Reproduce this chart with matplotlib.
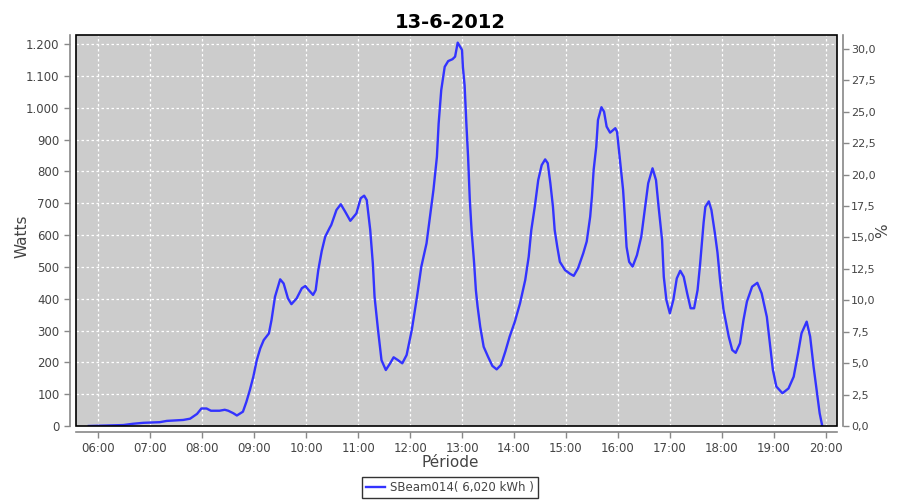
import matplotlib
matplotlib.use("Agg")
import matplotlib.pyplot as plt
from matplotlib.patches import Rectangle
from matplotlib.ticker import FuncFormatter, MultipleLocator

# Reading times (HH:MM) and power in watts
times = [
    "05:49", "06:29", "06:40", "06:52", "07:11", "07:19", "07:38", "07:46", "07:54", "07:59",
    "08:05", "08:10", "08:20", "08:26", "08:30", "08:36", "08:40", "08:47", "08:51", "08:55",
    "08:59", "09:03", "09:07", "09:11", "09:17", "09:20", "09:24", "09:30", "09:34", "09:39",
    "09:43", "09:49", "09:55", "09:59", "10:03", "10:08", "10:11", "10:14", "10:18", "10:22",
    "10:27", "10:29", "10:35", "10:40", "10:45", "10:51", "10:58", "11:03", "11:07", "11:10",
    "11:14", "11:17", "11:19", "11:23", "11:27", "11:32", "11:37", "11:41", "11:46", "11:51",
    "11:56", "12:02", "12:08", "12:13", "12:19", "12:23", "12:27", "12:31", "12:33", "12:36",
    "12:40", "12:44", "12:49", "12:52", "12:55", "13:00", "13:01", "13:03", "13:05", "13:07",
    "13:09", "13:11", "13:14", "13:16", "13:18", "13:21", "13:25", "13:30", "13:35", "13:40",
    "13:45", "13:50", "13:55", "14:01", "14:07", "14:13", "14:17", "14:20", "14:24", "14:28",
    "14:32", "14:36", "14:39", "14:42", "14:45", "14:47", "14:50", "14:53", "14:59", "15:05",
    "15:09", "15:14", "15:20", "15:24", "15:28", "15:30", "15:32", "15:35", "15:37", "15:41",
    "15:44", "15:47", "15:51", "15:57", "15:59", "16:02", "16:06", "16:08", "16:10", "16:13",
    "16:17", "16:22", "16:27", "16:31", "16:35", "16:40", "16:44", "16:47", "16:51", "16:53",
    "16:56", "17:00", "17:04", "17:08", "17:12", "17:16", "17:20", "17:24", "17:28", "17:32",
    "17:35", "17:39", "17:41", "17:45", "17:48", "17:52", "17:55", "17:58", "18:02", "18:08",
    "18:12", "18:16", "18:21", "18:25", "18:29", "18:35", "18:41", "18:46", "18:52", "18:56",
    "18:59", "19:03", "19:10", "19:17", "19:23", "19:28", "19:32", "19:38", "19:42", "19:46",
    "19:50", "19:53", "19:56",
]
watts = [
    0, 3, 7, 10, 12, 16, 19, 23, 38, 55,
    55, 48, 48, 51, 48, 40, 33, 45, 76, 113,
    155, 207, 244, 270, 291, 333, 406, 461, 448, 401,
    383, 401, 433, 440, 427, 412, 427, 490, 550, 595,
    622, 632, 679, 697, 674, 645, 668, 716, 724, 710,
    616, 511, 406, 302, 207, 176, 197, 216, 207, 197,
    223, 302, 406, 501, 574, 658, 742, 846, 951, 1056,
    1129, 1147, 1153, 1161, 1205, 1182, 1129, 1070, 951, 846,
    710, 616, 511, 427, 375, 312, 249, 218, 189, 178,
    192, 234, 281, 328, 386, 459, 532, 616, 689, 773,
    820, 838, 826, 763, 689, 616, 563, 516, 490, 478,
    472, 496, 543, 580, 658, 721, 805, 878, 962, 1002,
    988, 941, 922, 936, 925, 846, 742, 658, 563, 516,
    501, 537, 595, 679, 763, 810, 773, 689, 585, 469,
    396, 354, 396, 464, 488, 469, 417, 370, 370, 427,
    511, 640, 689, 706, 679, 606, 545, 459, 365, 281,
    239, 230, 260, 333, 391, 438, 450, 417, 343, 249,
    176, 124, 103, 118, 155, 228, 291, 328, 281, 186,
    103, 40, 0,
]
hour_ticks = list(range(6, 21))
series_name = "SBeam014( 6,020 kWh )"
title = "13-6-2012"

GREY_TXT = "#444444"
AXIS_COL = "#888888"


def to_hours(s):
    h, m = s.split(":")
    return int(h) + int(m) / 60


x = [to_hours(t) for t in times]

fig = plt.figure(figsize=(9, 5), dpi=100)
ax = fig.add_axes([0.0839, 0.148, 0.8461, 0.782])
ax.set_facecolor("#cccccc")

ax.plot(x, watts, color="#3333ff", linewidth=1.7, label=series_name, zorder=3)

ax.set_xlim(5.561, 20.217)
ax.set_ylim(0, 1229)
ax.set_xticks(hour_ticks)
ax.set_xticklabels([f"{h:02d}:00" for h in hour_ticks])
ax.yaxis.set_major_locator(MultipleLocator(100))
ax.yaxis.set_major_formatter(FuncFormatter(lambda v, p: f"{int(v):,}".replace(",", ".")))
ax.grid(True, color="white", linestyle=(0, (2, 2)), linewidth=0.9)
ax.set_axisbelow(True)

# right % axis
ax2 = ax.twinx()
ax2.set_ylim(0, 31.1)
ax2.yaxis.set_major_locator(MultipleLocator(2.5))
ax2.yaxis.set_major_formatter(FuncFormatter(lambda v, p: f"{v:.1f}".replace(".", ",")))

for a in (ax, ax2):
    for side in ("left", "bottom", "right", "top"):
        a.spines[side].set_visible(False)
    a.tick_params(colors=AXIS_COL, labelcolor=GREY_TXT, labelsize=8.5, length=4, width=1)
ax2.tick_params(labelsize=8, pad=2)

for a, side in ((ax, "left"), (ax, "bottom"), (ax2, "right")):
    a.spines[side].set_visible(True)
    a.spines[side].set_position(("outward", 4))
    a.spines[side].set_color(AXIS_COL)
    a.spines[side].set_linewidth(1.2)

# black plot border
ax2.add_patch(Rectangle((0, 0), 1, 1, transform=ax.transAxes, fill=False,
                        edgecolor="black", linewidth=1.2, zorder=5, clip_on=False))

ax.set_ylabel("Watts", fontsize=11, color=GREY_TXT)
ax.yaxis.set_label_coords(-0.061, 0.486)
ax.set_xlabel("Période", fontsize=11, color=GREY_TXT)
ax.xaxis.set_label_coords(0.492, -0.075)
ax2.set_ylabel("%", fontsize=11, color=GREY_TXT)
ax2.yaxis.set_label_coords(1.0505, 0.5)

fig.suptitle(title, fontsize=14, fontweight="bold", y=0.975)

leg = fig.legend(loc="lower center", bbox_to_anchor=(0.5, -0.008), fontsize=8.5,
                 fancybox=False, edgecolor="black", handlelength=1.6,
                 handletextpad=0.4, borderpad=0.35, labelcolor=GREY_TXT)
leg.get_frame().set_linewidth(1.0)

fig.savefig("out.png", dpi=100)
